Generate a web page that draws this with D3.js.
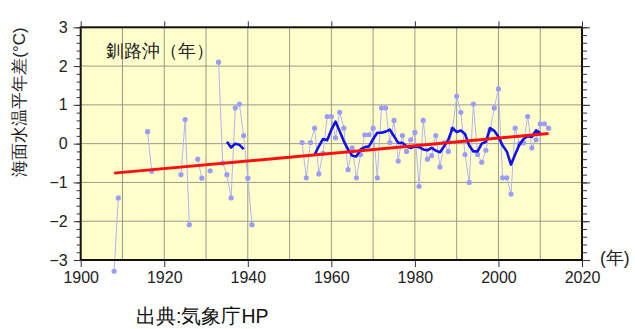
<!DOCTYPE html>
<html><head><meta charset="utf-8">
<script src="https://cdn.jsdelivr.net/npm/d3@7"></script>
<style>body{margin:0;background:#fff}text{font-family:"Liberation Sans",Arial,sans-serif}</style>
</head><body>
<svg id="c" width="635" height="329"></svg>
<script>
// Annual SST anomaly, 1908..2012 (null = missing)
const annualStart = 1908;
const annualValues = [
 -3.29,-1.40,null,null,null,null,null,null,0.31,-0.71, // 1908-1917
 null,null,null,null,null,null,-0.80,0.62,-2.09,null,   // 1918-1927
 -0.40,-0.89,null,-0.70,null,2.10,-0.50,-0.80,-1.40,0.92, // 1928-1937
 1.02,0.21,-0.89,-2.09,null,null,null,null,null,null,   // 1938-1947
 null,null,null,null,null,0.03,-0.88,0.03,0.40,-0.78,   // 1948-1957
 -0.25,0.70,0.70,0.15,0.81,0.40,-0.67,-0.11,-0.88,-0.28, // 1958-1967
 0.23,0.23,0.40,-0.88,0.92,0.92,0.03,0.60,-0.45,0.21,   // 1968-1977
 -0.20,0.10,0.29,-1.10,0.60,-0.40,-0.31,0.21,-0.60,0.02, // 1978-1987
 -0.20,0.38,1.22,0.81,-0.28,-1.00,1.02,-0.28,-0.48,-0.17, // 1988-1997
 0.36,0.92,1.41,-0.88,-0.88,-1.30,0.40,0.00,0.02,0.70,  // 1998-2007
 -0.11,0.10,0.51,0.51,0.40                              // 2008-2012
];
// 5-year running mean, 1935..2010 (null = missing)
const meanStart = 1935;
const meanValues = [
 0.05,-0.10,0.00,-0.03,-0.14,                            // 1935-1939
 null,null,null,null,null,null,null,null,null,null,null,null,null,null,null,null, // 1940-1955
 -0.28,-0.07,0.12,0.09,0.36,0.57,0.32,0.06,-0.15,-0.31, // 1956-1965
 -0.33,-0.15,-0.09,-0.07,0.12,0.28,0.28,0.31,0.36,0.19, // 1966-1975
 0.02,0.02,-0.07,-0.11,-0.07,-0.09,-0.15,-0.17,-0.11,-0.18, // 1976-1985
 -0.22,-0.07,0.10,0.40,0.30,0.34,0.25,-0.05,-0.20,-0.20, // 1986-1995
 0.00,0.05,0.40,0.33,0.18,-0.05,-0.20,-0.54,-0.28,-0.03, // 1996-2005
 0.12,0.19,0.17,0.34,0.28                               // 2006-2010
];
// Linear trend end points
const trendYears = [1908, 2012];
const trendValues = [-0.76, 0.26];
// Axis ticks
const xTickLabels = [1900,1920,1940,1960,1980,2000,2020];
const yTickLabels = [3,2,1,0,-1,-2,-3];

const annual = annualValues.map((v,i)=>({yr:annualStart+i, v}));
const mean = meanValues.map((v,i)=>({yr:meanStart+i, v}));
const trend = trendYears.map((yr,i)=>({yr, v:trendValues[i]}));

const svg = d3.select('#c');
const L=80.7, R=582, T=27.3, B=260;
const x = d3.scaleLinear().domain([1900,2020]).range([L,R]);
const y = d3.scaleLinear().domain([-3,3]).range([B,T]);

svg.append('rect').attr('x',L).attr('y',T).attr('width',R-L).attr('height',B-T).attr('fill','#ffffcc');

// grid
const g = svg.append('g').attr('stroke','#9a9a8a').attr('stroke-width',1);
d3.range(1910,2020,10).forEach(yr=>g.append('line').attr('x1',x(yr)).attr('x2',x(yr)).attr('y1',T).attr('y2',B));
d3.range(-2,3,1).forEach(v=>g.append('line').attr('x1',L).attr('x2',R).attr('y1',y(v)).attr('y2',y(v)));

// annual line + dots
const line = d3.line().defined(d=>d.v!==null).x(d=>x(d.yr)).y(d=>y(d.v));
svg.append('path').datum(annual).attr('d',line).attr('fill','none').attr('stroke','#b4b4f4').attr('stroke-width',1);
svg.append('g').selectAll('circle').data(annual.filter(d=>d.v!==null)).join('circle')
  .attr('cx',d=>x(d.yr)).attr('cy',d=>y(d.v)).attr('r',2.6).attr('fill','#9c9cfa');

// running mean
svg.append('path').datum(mean).attr('d',line).attr('fill','none').attr('stroke','#1010f0').attr('stroke-width',2.6).attr('stroke-linejoin','round');
// trend
svg.append('path').datum(trend).attr('d',line).attr('fill','none').attr('stroke','#ff1010').attr('stroke-width',3);

// frame
svg.append('rect').attr('x',L).attr('y',T).attr('width',R-L).attr('height',B-T).attr('fill','none').attr('stroke','#111').attr('stroke-width',2);

// axes
const yMinor = d3.range(-3,3.001,0.2);
svg.append('g').attr('transform',`translate(${L},0)`).call(d3.axisLeft(y).tickValues(yMinor).tickSize(4).tickFormat('')).call(a=>a.select('.domain').remove());
svg.append('g').attr('transform',`translate(${L},0)`).call(d3.axisLeft(y).tickValues(yTickLabels).tickSize(7).tickPadding(6).tickFormat(d=>d<0?'\u2212'+Math.abs(d):d))
  .call(a=>a.select('.domain').remove()).call(a=>a.selectAll('text').attr('font-size',16).attr('fill','#222').attr('font-family','"Liberation Sans",Arial,sans-serif'));
svg.append('g').attr('transform',`translate(${R},0)`).call(d3.axisRight(y).tickValues(yMinor).tickSize(5).tickFormat('')).call(a=>a.select('.domain').remove());
svg.append('g').attr('transform',`translate(${R},0)`).call(d3.axisRight(y).tickValues(yTickLabels).tickSize(8).tickFormat('')).call(a=>a.select('.domain').remove());
svg.append('g').attr('transform',`translate(0,${B})`).call(d3.axisBottom(x).tickValues(xTickLabels).tickSize(7).tickPadding(5).tickFormat(d=>d))
  .call(a=>a.select('.domain').remove()).call(a=>a.selectAll('text').attr('font-size',16).attr('fill','#222').attr('font-family','"Liberation Sans",Arial,sans-serif'));
svg.append('g').attr('transform',`translate(0,${T})`).call(d3.axisTop(x).tickValues(xTickLabels).tickSize(6).tickFormat(''))
  .call(a=>a.select('.domain').remove());
svg.selectAll('.tick line').attr('stroke','#333');

// texts
const cjk='"Noto Sans CJK JP","Noto Sans CJK SC",sans-serif';
svg.append('text').attr('x',106).attr('y',57).attr('font-size',17.5).attr('font-family',cjk).attr('fill','#222').text('釧路沖（年）');
svg.append('text').attr('transform','translate(25,102) rotate(-90)').attr('text-anchor','middle').attr('font-size',17).attr('font-family',cjk).attr('fill','#222').text('海面水温平年差(°C)');
svg.append('text').attr('x',600).attr('y',264).attr('font-size',17.5).attr('font-family',cjk).attr('fill','#222').text('(年)');
svg.append('text').attr('x',136).attr('y',323).attr('font-size',19.5).attr('font-family',cjk).attr('fill','#111').text('出典:気象庁HP');
</script>
</body></html>
